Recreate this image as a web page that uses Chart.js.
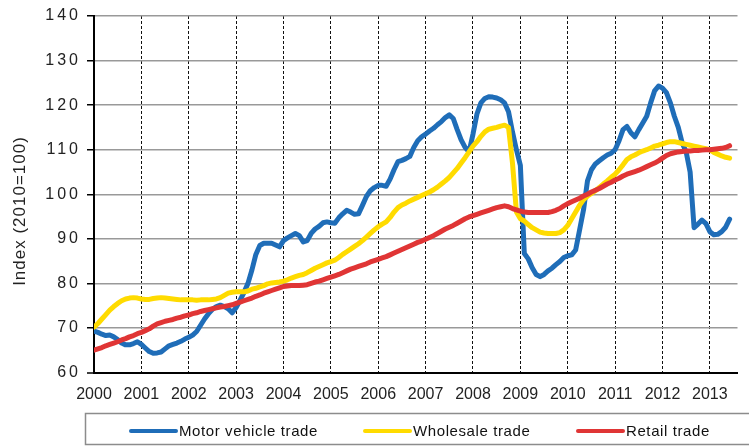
<!DOCTYPE html>
<html>
<head>
<meta charset="utf-8">
<script src="https://cdn.jsdelivr.net/npm/chart.js@4/dist/chart.umd.min.js"></script>
<style>
  html, body { margin: 0; padding: 0; background: #fff; }
  #wrap { width: 749px; height: 446px; }
</style>
</head>
<body>
<div id="wrap"><canvas id="trade" width="749" height="446"></canvas></div>
<script>
// monthly index values, Jan 2000 .. Jun 2013 (2010=100)
const years = ['2000','2001','2002','2003','2004','2005','2006','2007','2008','2009','2010','2011','2012','2013'];
const yTitle = 'Index (2010=100)';

const motorVehicle = [
  69.3, 69.0, 68.6, 68.3, 68.4, 68.0, 67.4, 66.6, 66.2, 66.2,
  66.5, 66.9, 66.3, 65.5, 64.7, 64.3, 64.4, 64.6, 65.3, 66.0,
  66.3, 66.6, 67.0, 67.5, 67.9, 68.4, 69.2, 70.6, 72.0, 73.2,
  74.2, 74.8, 75.1, 74.8, 74.3, 73.4, 74.6, 76.2, 78.0, 80.0,
  83.0, 86.5, 88.5, 89.0, 89.0, 89.0, 88.6, 88.2, 89.6, 90.2,
  90.7, 91.2, 90.7, 89.3, 89.6, 91.2, 92.2, 92.8, 93.6, 93.8,
  93.6, 93.5, 94.7, 95.6, 96.4, 96.0, 95.5, 95.6, 97.5, 99.5,
  100.8, 101.5, 102.0, 102.0, 101.8, 103.4, 105.5, 107.3, 107.6, 108.0,
  108.5, 110.5, 112.0, 112.9, 113.5, 114.2, 114.8, 115.6, 116.3, 117.2,
  117.8, 117.0, 114.5, 112.2, 110.5, 109.5, 113.5, 118.0, 120.5, 121.5,
  121.9, 121.8, 121.6, 121.2, 120.5, 118.5, 114.0, 110.0, 106.5, 86.7,
  85.5, 83.5, 82.0, 81.5, 82.0, 82.8, 83.4, 84.2, 84.9, 85.8,
  86.2, 86.4, 87.5, 92.0, 96.5, 103.0, 105.5, 106.8, 107.5, 108.2,
  108.8, 109.2, 110.0, 112.0, 114.5, 115.2, 113.8, 112.9, 114.5, 116.0,
  117.5, 120.5, 123.2, 124.3, 123.8, 122.8, 120.5, 117.5, 115.0, 111.5,
  109.5, 105.0, 92.5, 93.3, 94.2, 93.4, 91.6, 90.9, 91.0, 91.6,
  92.6, 94.4
];

const wholesale = [
  70.2, 71.0, 72.0, 73.0, 74.0, 74.8, 75.5, 76.1, 76.5, 76.7,
  76.8, 76.7, 76.5, 76.4, 76.4, 76.6, 76.7, 76.8, 76.7, 76.6,
  76.5, 76.4, 76.3, 76.3, 76.3, 76.3, 76.2, 76.3, 76.3, 76.3,
  76.4, 76.5, 76.8, 77.3, 77.8, 78.0, 78.1, 78.1, 78.1, 78.3,
  78.7, 78.9, 79.2, 79.5, 79.9, 80.1, 80.2, 80.3, 80.5, 80.8,
  81.2, 81.5, 81.8, 82.0, 82.4, 82.9, 83.4, 83.8, 84.2, 84.6,
  84.9, 85.2, 85.8, 86.5, 87.1, 87.7, 88.3, 88.9, 89.6, 90.4,
  91.2, 92.0, 92.7, 93.3, 93.8, 94.8, 96.0, 97.0, 97.6, 98.0,
  98.5, 98.9, 99.3, 99.7, 100.1, 100.5, 101.0, 101.6, 102.3, 103.0,
  103.8, 104.8, 105.8, 107.0, 108.2, 109.5, 110.8, 111.8, 113.0, 114.0,
  114.6, 114.8, 115.0, 115.3, 115.5, 115.0, 107.0, 96.0, 94.5, 94.0,
  93.2, 92.5, 92.0, 91.5, 91.3, 91.2, 91.2, 91.2, 91.4, 92.0,
  93.0, 94.5, 96.0, 97.5, 98.8, 99.6, 100.2, 100.8, 101.5, 102.3,
  103.0, 103.8, 104.5, 105.5, 106.6, 107.8, 108.4, 108.8, 109.3, 109.7,
  110.0, 110.4, 110.8, 111.0, 111.3, 111.6, 111.8, 111.8, 111.6, 111.4,
  111.2, 111.0, 110.8, 110.6, 110.4, 110.2, 110.0, 109.4, 109.0, 108.6,
  108.3, 108.1
];

const retail = [
  65.0, 65.3, 65.6, 66.0, 66.3, 66.6, 66.9, 67.3, 67.6, 68.0,
  68.3, 68.7, 69.0, 69.4, 69.8, 70.4, 70.9, 71.2, 71.5, 71.7,
  71.9, 72.2, 72.4, 72.7, 72.9, 73.2, 73.4, 73.7, 73.9, 74.1,
  74.3, 74.5, 74.7, 74.8, 75.0, 75.2, 75.5, 75.8, 76.1, 76.4,
  76.7, 77.1, 77.4, 77.8, 78.1, 78.4, 78.7, 79.0, 79.3, 79.4,
  79.5, 79.5, 79.5, 79.6, 79.7, 80.0, 80.3, 80.5, 80.8, 81.1,
  81.4, 81.7, 82.0, 82.4, 82.8, 83.2, 83.5, 83.8, 84.1, 84.4,
  84.8, 85.1, 85.4, 85.7, 86.0, 86.4, 86.8, 87.2, 87.6, 88.0,
  88.4, 88.8, 89.2, 89.5, 89.9, 90.3, 90.7, 91.2, 91.7, 92.2,
  92.6, 93.0, 93.5, 94.0, 94.5, 94.9, 95.2, 95.5, 95.8, 96.1,
  96.4, 96.7, 97.0, 97.2, 97.4, 97.2, 96.8, 96.5, 96.2, 96.0,
  95.9, 95.9, 95.9, 95.9, 95.9, 95.9, 96.1, 96.4, 96.8, 97.4,
  97.9, 98.3, 98.7, 99.1, 99.6, 100.0, 100.5, 100.9, 101.3, 101.8,
  102.3, 102.7, 103.2, 103.6, 104.1, 104.5, 104.8, 105.1, 105.4, 105.8,
  106.2, 106.6, 107.0, 107.5, 108.1, 108.7, 109.1, 109.3, 109.5, 109.6,
  109.7, 109.7, 109.8, 109.8, 109.9, 110.0, 110.0, 110.1, 110.2, 110.3,
  110.5, 110.9
];

const toPoints = arr => arr.map((v, i) => ({x: i, y: v}));
const FONT = '"Liberation Sans", Arial, sans-serif';

// title on the value axis + boxed legend under the chart
const frame = {
  id: 'frame',
  afterDraw(chart) {
    const ctx = chart.ctx;
    ctx.save();
    ctx.translate(20, 211);
    ctx.rotate(-Math.PI / 2);
    ctx.font = '17px ' + FONT;
    ctx.letterSpacing = '1px';
    ctx.fillStyle = '#222';
    ctx.textAlign = 'center';
    ctx.textBaseline = 'middle';
    ctx.fillText(yTitle, 0, 0);
    ctx.restore();

    ctx.save();
    ctx.strokeStyle = '#8c8c8c';
    ctx.lineWidth = 1.5;
    ctx.beginPath();
    ctx.moveTo(760, 413.5); ctx.lineTo(85.5, 413.5); ctx.lineTo(85.5, 444.5); ctx.lineTo(760, 444.5);
    ctx.stroke();
    const itemX = [131, 365, 578];
    ctx.font = '15px ' + FONT;
    ctx.letterSpacing = '0.6px';
    ctx.textBaseline = 'middle';
    ctx.textAlign = 'left';
    chart.data.datasets.forEach((ds, k) => {
      const x = itemX[k], y = 431;
      ctx.strokeStyle = ds.borderColor;
      ctx.lineWidth = 4;
      ctx.lineCap = 'round';
      ctx.beginPath(); ctx.moveTo(x, y); ctx.lineTo(x + 45, y); ctx.stroke();
      ctx.fillStyle = '#111';
      ctx.fillText(ds.label, x + 48, y + 1);
    });
    ctx.restore();
  }
};

const line = (label, data, color, order) => ({
  label, data: toPoints(data), borderColor: color, backgroundColor: color,
  borderWidth: 5, pointRadius: 0, tension: 0, order,
  borderJoinStyle: 'round', borderCapStyle: 'round'
});

const chart = new Chart(document.getElementById('trade'), {
  type: 'line',
  data: {
    datasets: [
      line('Motor vehicle trade', motorVehicle, '#1f6db8', 3),
      line('Wholesale trade', wholesale, '#ffdb00', 2),
      line('Retail trade', retail, '#e03535', 1)
    ]
  },
  options: {
    responsive: false,
    animation: false,
    devicePixelRatio: 1,
    layout: { padding: { top: 16, right: 11.5, bottom: 0, left: 0 } },
    plugins: { legend: { display: false }, tooltip: { enabled: false } },
    scales: {
      x: {
        type: 'linear', min: 0, max: 163,
        afterBuildTicks: s => { s.ticks = years.map((_, i) => ({ value: i * 12 })); },
        afterFit: s => { s.height = 73.5; },
        ticks: {
          autoSkip: false, maxRotation: 0, padding: 12, color: '#222',
          font: { family: FONT, size: 16 },
          callback: v => years[v / 12]
        },
        grid: {
          drawTicks: false,
          color: c => c.tick && c.tick.value === 0 ? 'rgba(0,0,0,0)' : '#111',
          lineWidth: 1
        },
        border: { color: '#000', width: 2, dash: [3, 2] }
      },
      y: {
        min: 60, max: 140,
        afterFit: s => { s.width = 94; },
        ticks: { stepSize: 10, padding: 6, color: '#222', font: { family: FONT, size: 16 } },
        grid: {
          color: c => c.tick && c.tick.value === 60 ? '#000' : '#999',
          lineWidth: c => c.tick && c.tick.value === 60 ? 2 : 1.5,
          tickColor: '#000', tickLength: 7, tickWidth: 1.5
        },
        border: { color: '#000', width: 2 }
      }
    }
  },
  plugins: [frame]
});

// slightly wider letter spacing on the value-axis numbers, as in the source image
const ys = chart.scales.y;
const baseDrawLabels = ys.drawLabels;
ys.drawLabels = function (area) {
  this.ctx.save();
  this.ctx.letterSpacing = '3px';
  baseDrawLabels.call(this, area);
  this.ctx.restore();
};
chart.draw();
</script>
</body>
</html>
